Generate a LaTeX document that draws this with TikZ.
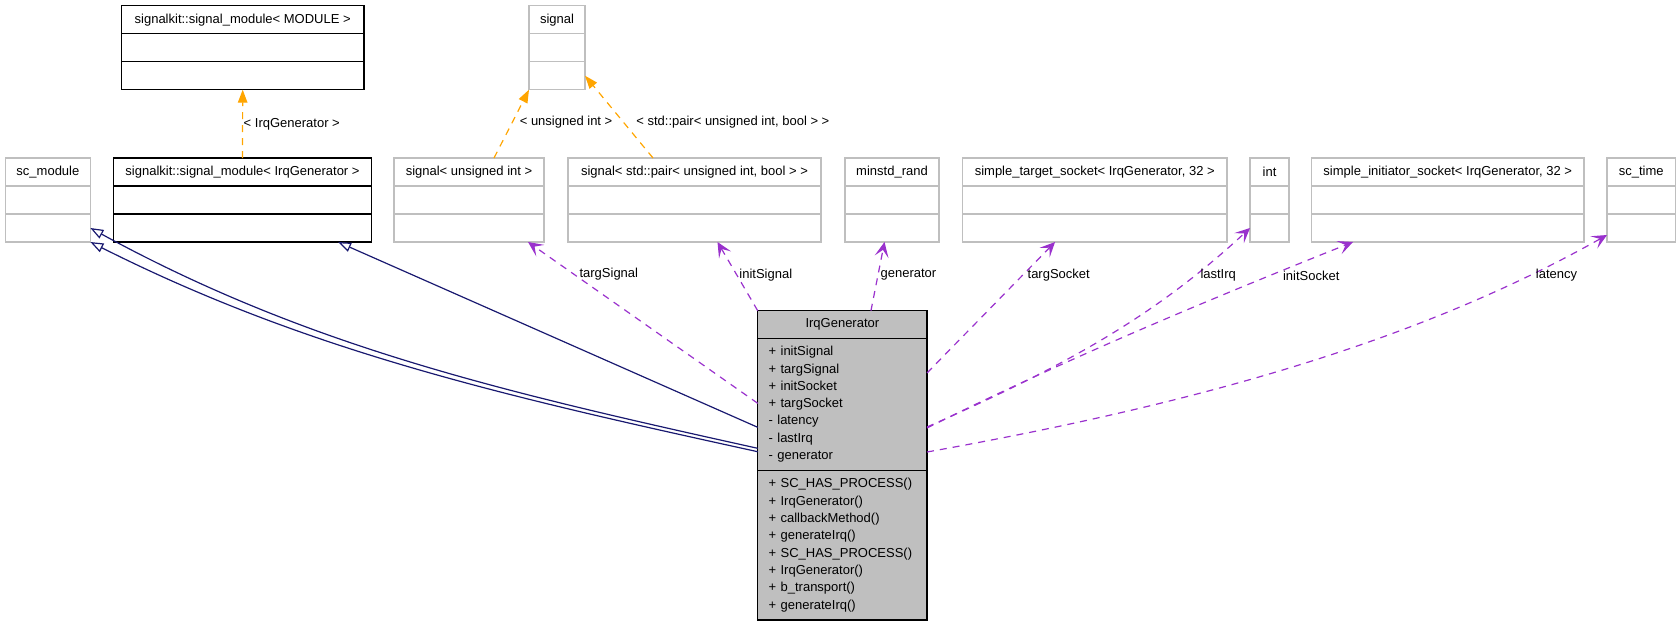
\documentclass[tikz,border=0pt]{standalone}
\usepackage{fontspec}
\setmainfont{Liberation Sans}
\usetikzlibrary{arrows.meta,positioning}
\definecolor{grey75}{HTML}{BFBFBF}
\definecolor{edgeorange}{HTML}{FFA500}
\definecolor{usepurple}{HTML}{9A32CD}
\definecolor{inhblue}{HTML}{191970}
\tikzset{
  cls/.style={draw=grey75,line width=1.2pt,anchor=north west,minimum height=28pt,inner sep=0pt,outer sep=0pt},
  doc/.style={cls,draw=black},
  main/.style={doc,fill=grey75},
  members/.style={text width=147.3pt,align=left,inner xsep=11pt,inner ysep=0pt},
  lbl/.style={inner sep=0pt,text=black},
  inh/.style={draw=inhblue,line width=1.2pt,-{Triangle[length=13pt,width=9.5pt,fill=white]}},
  tmpl/.style={draw=edgeorange,line width=1.2pt,dash pattern=on 7pt off 6pt,-{Triangle[length=13pt,width=9.5pt]}},
  uses/.style={draw=usepurple,line width=1.2pt,dash pattern=on 7pt off 6pt,-{Stealth[length=15pt,width=14pt,inset=7pt]}}
}
% class box: title row and two empty rows
\newcommand\umlclass[5][cls]{%
  \node[#1,minimum width=#4] (#2) at (#3) {#5};
  \node[#1,minimum width=#4,below=0pt of #2] (#2-a) {};
  \node[#1,minimum width=#4,below=0pt of #2-a] (#2-b) {};}

\begin{document}
\begin{tikzpicture}[x=1pt,y=-1pt,font=\fontsize{13}{17.3}\selectfont]
\useasboundingbox (0,0) rectangle (1680,627);
\umlclass[doc]{mod}{121.4,5.7}{242.6pt}{signalkit::signal\_module< MODULE >}
\umlclass{sig}{529,5.7}{56pt}{signal}
\umlclass{scm}{5.4,158}{85pt}{sc\_module}
\umlclass[doc]{smi}{113.6,158}{257.8pt}{signalkit::signal\_module< IrqGenerator >}
\umlclass{sui}{394,158}{150pt}{signal< unsigned int >}
\umlclass{spr}{568,158}{253pt}{signal< std::pair< unsigned int, bool > >}
\umlclass{mrd}{845,158}{94pt}{minstd\_rand}
\umlclass{sts}{962.5,158}{264.5pt}{simple\_target\_socket< IrqGenerator, 32 >}
\umlclass{int}{1250,158}{39pt}{int}
\umlclass{sis}{1311.5,158}{272.5pt}{simple\_initiator\_socket< IrqGenerator, 32 >}
\umlclass{sct}{1607,158}{68.5pt}{sc\_time}

\node[main,minimum width=169.3pt,minimum height=27.6pt] (irq) at (757.7,310.7) {IrqGenerator};
\node[main,members,minimum height=132pt,below=0pt of irq] (irq-a)
  {+ initSignal\\+ targSignal\\+ initSocket\\+ targSocket\\- latency\\- lastIrq\\- generator};
\node[main,members,minimum height=149.7pt,below=0pt of irq-a] (irq-b)
  {+ SC\_HAS\_PROCESS()\\+ IrqGenerator()\\+ callbackMethod()\\+ generateIrq()\\+ SC\_HAS\_PROCESS()\\+ IrqGenerator()\\+ b\_transport()\\+ generateIrq()};

% template instances
\draw[tmpl] (smi.north) -- node[lbl,right=0.5pt]{< IrqGenerator >} (mod-b.south);
\draw[tmpl] ([xshift=25pt]sui.north) -- node[lbl,pos=.52,right=7pt]{< unsigned int >} (sig-b.south west);
\draw[tmpl] ([xshift=-41.5pt]spr.north) -- node[lbl,pos=.43,right=12pt]{< std::pair< unsigned int, bool > >} (sig-b.east);

% inheritance
\draw[inh] ([yshift=-44pt]irq-a.west) .. controls (508,393) and (310,348) .. (scm-b.east);
\draw[inh] ([yshift=-47.4pt]irq-a.west) .. controls (508,397) and (309,352) .. (scm-b.south east);
\draw[inh] ([yshift=-23pt]irq-a.west) -- ([xshift=-33.4pt]smi-b.south east);

% members
\draw[uses] ([yshift=1pt]irq-a.west) -- node[lbl,pos=.8,right=5pt]{targSignal} ([xshift=-16pt]sui-b.south east);
\draw[uses] (irq.north west) -- node[lbl,pos=.52,right=2pt]{initSignal} ([xshift=23pt]spr-b.south);
\draw[uses] ([xshift=28.6pt]irq.north) -- node[lbl,pos=.52,right=2pt]{generator} ([xshift=-7.5pt]mrd-b.south);
\draw[uses] ([yshift=31.3pt]irq-a.east) -- node[lbl,pos=.75,right=4pt]{targSocket} ([xshift=-39.7pt]sts-b.south);
\draw[uses] ([yshift=-22.7pt]irq-a.east) .. controls (1058,369) and (1151,320) .. node[lbl,pos=.815,right=4.5pt]{lastIrq} (int-b.west);
\draw[uses] ([yshift=-23.7pt]irq-a.east) .. controls (1068,358) and (1213,298) .. node[lbl,pos=.8,right=14pt]{initSocket} ([xshift=41.5pt]sis-b.south west);
\draw[uses] ([yshift=-47.7pt]irq-a.east) .. controls (1178,407) and (1408,347) .. node[lbl,pos=.874,right=5pt]{latency} ([yshift=-7pt]sct-b.west);
\end{tikzpicture}
\end{document}
